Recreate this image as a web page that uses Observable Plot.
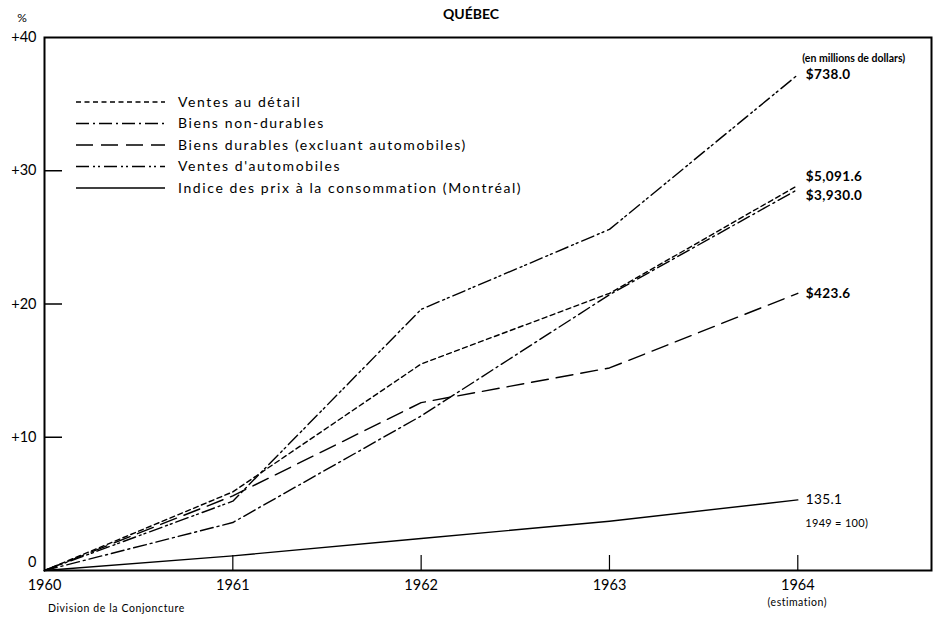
<!DOCTYPE html>
<html>
<head>
<meta charset="utf-8">
<script src="https://cdn.jsdelivr.net/npm/d3@7"></script>
<script src="https://cdn.jsdelivr.net/npm/@observablehq/plot@0.6"></script>
<style>
  html, body { margin: 0; padding: 0; background: #fff; }
  #chart svg { display: block; }
</style>
</head>
<body>
<div id="chart"></div>
<script>
// ---- data ----
const years = [1960, 1961, 1962, 1963, 1964];
const yearLabels = ["1960", "1961", "1962", "1963", "1964"];
const seriesNames = [
  "Ventes au détail",
  "Biens non-durables",
  "Biens durables (excluant automobiles)",
  "Ventes d'automobiles",
  "Indice des prix à la consommation (Montréal)"
];
const retail      = [0, 5.9, 15.5, 20.8, 28.9];
const nonDurables = [0, 3.6, 11.6, 20.7, 28.6];
const durables    = [0, 5.6, 12.6, 15.2, 20.8];
const autos       = [0, 5.2, 19.6, 25.6, 37.2];
const cpi         = [0, 1.1, 2.4, 3.7, 5.3];
const endLabels   = ["$5,091.6", "$3,930.0", "$423.6", "$738.0", "135.1"];
const yTicks = [0, 10, 20, 30, 40];
const yTickLabels = ["0", "+10", "+20", "+30", "+40"];

// ---- styles ----
const dashes = ["5,3.5", "13,4,2,4", "17,8", "13,4,2,3,2,4", null];
const labelDy = [-9, 6, 0, 0, 0];
const labelWeight = ["bold", "bold", "bold", "bold", "normal"];
const font = "Lato, 'DejaVu Sans', sans-serif";

const allSeries = [retail, nonDurables, durables, autos, cpi];
const rows = [];
allSeries.forEach((vals, i) => vals.forEach((v, j) => rows.push({series: seriesNames[i], idx: i, year: years[j], value: v})));
const ends = allSeries.map((vals, i) => ({idx: i, year: years[years.length - 1], value: vals[vals.length - 1], text: endLabels[i]}));

const W = 933, H = 621;
const mL = 44, mR = 2, mT = 37, mB = 51;

const lineMarks = allSeries.map((vals, i) =>
  Plot.line(rows.filter(r => r.idx === i), {
    x: "year", y: "value", stroke: "black", strokeWidth: 1.4,
    strokeDasharray: dashes[i] || undefined
  })
);

const plot = Plot.plot({
  width: W, height: H,
  marginLeft: mL, marginRight: mR, marginTop: mT, marginBottom: mB,
  style: {fontFamily: font, background: "white", color: "black", overflow: "visible"},
  x: {domain: [1960, 1964.71], axis: null},
  y: {domain: [0, 40], axis: null},
  marks: [
    ...lineMarks,
    Plot.frame({stroke: "black", strokeWidth: 2}),
    // inside y ticks
    Plot.tickY(yTicks.slice(1, 4), {y: d => d, stroke: "black", strokeWidth: 1.5, insetRight: W - mL - mR - 18}),
    // upward x ticks
    Plot.tickX(years.slice(1), {x: d => d, stroke: "black", strokeWidth: 1.2, insetTop: H - mT - mB - 15}),
    // y tick labels
    Plot.text(yTicks.slice(1), {x: 1960, y: d => d, text: (d, i) => yTickLabels[i + 1], textAnchor: "end", dx: -8, fontSize: 14.5}),
    Plot.text(yTicks.slice(0, 1), {x: 1960, y: d => d, text: (d, i) => yTickLabels[i], textAnchor: "end", dx: -8, dy: -8, fontSize: 14.5}),
    // x tick labels
    Plot.text(years, {x: d => d, y: 0, text: (d, i) => yearLabels[i], dy: 15, fontSize: 14.5}),
    // end labels
    Plot.text(ends, {x: "year", y: "value", text: "text", textAnchor: "start", dx: 8, fontSize: 13.5}),
  ]
});

document.getElementById("chart").appendChild(plot);

const svg = d3.select(plot);
const xs = d3.scaleLinear().domain([1960, 1964.71]).range([mL, W - mR]);
const ys = d3.scaleLinear().domain([0, 40]).range([H - mB, mT]);

// end label vertical offsets and weights (last text group = end labels)
const textGroups = svg.selectAll("g[aria-label='text']").nodes();
d3.select(textGroups[textGroups.length - 1]).selectAll("text")
  .attr("letter-spacing", 0.4)
  .attr("font-weight", (d, i) => labelWeight[i])
  .attr("transform", function(d, i) {
    const t = d3.select(this).attr("transform") || "";
    return t + ` translate(0,${labelDy[i]})`;
  });

const ann = svg.append("g").attr("font-family", font).attr("fill", "black").attr("text-anchor", "start");
// title
ann.append("text").attr("x", 471).attr("y", 19).attr("text-anchor", "middle")
  .attr("font-size", 14).attr("font-weight", "bold").text("QUÉBEC");
ann.append("text").attr("x", 22).attr("y", 22).attr("text-anchor", "middle")
  .attr("font-size", 12).text("%");
ann.append("text").attr("x", xs(1964) + 5).attr("y", 62)
  .attr("font-size", 10.5).attr("font-weight", "bold").text("(en millions de dollars)");
ann.append("text").attr("x", xs(1964) + 8).attr("y", ys(cpi[4]) + 28)
  .attr("font-size", 11).attr("letter-spacing", 0.3).text("1949 = 100)");
ann.append("text").attr("x", xs(1964)).attr("y", 606).attr("text-anchor", "middle")
  .attr("font-size", 10.5).attr("letter-spacing", 0.5).text("(estimation)");
ann.append("text").attr("x", 48).attr("y", 612)
  .attr("font-size", 10.5).attr("letter-spacing", 0.6).text("Division de la Conjoncture");

// legend
const legY = [102, 123.5, 145, 166.5, 188];
const leg = ann.append("g");
seriesNames.forEach((name, i) => {
  leg.append("line").attr("x1", 76).attr("x2", 165).attr("y1", legY[i]).attr("y2", legY[i])
    .attr("stroke", "black").attr("stroke-width", 1.4)
    .attr("stroke-dasharray", dashes[i]);
  leg.append("text").attr("x", 178).attr("y", legY[i]).attr("dy", "0.35em")
    .attr("font-size", 14).attr("letter-spacing", 1.6).text(name);
});
</script>
</body>
</html>
